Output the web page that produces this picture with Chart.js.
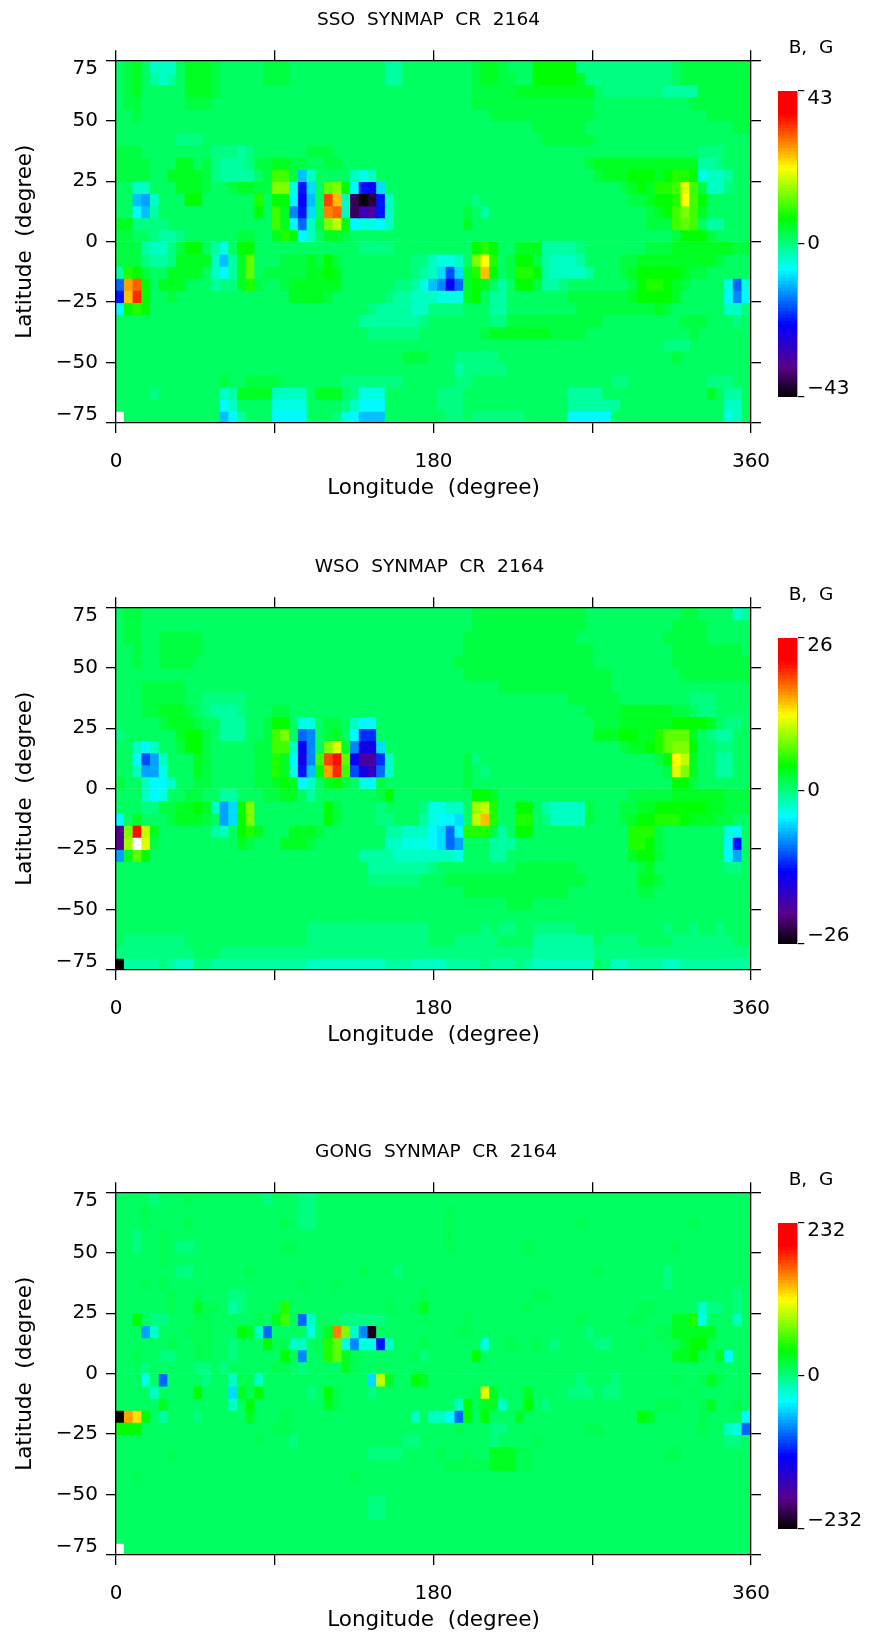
<!DOCTYPE html>
<html>
<head>
<meta charset="utf-8">
<title>SYNMAP CR 2164</title>
<script src="https://cdn.jsdelivr.net/npm/chart.js@4"></script>
<style>
  html, body { margin: 0; padding: 0; background: #fff; }
  #page { position: relative; width: 874px; height: 1637px; overflow: hidden; }
  canvas { position: absolute; }
</style>
</head>
<body>
<div id="page"></div>
<script>
// each char is one map cell, a..x = +1/24..+24/24 of the scale max, A..X the same negative,
// '.' zero, '+' is 1.5/24, '*' off the top of the scale (drawn white). rows run north to south
const latTicks = [-75, -50, -25, 0, 25, 50, 75];
const lonTicks = [0, 90, 180, 270, 360];
const lonLabels = [0, 180, 360];
const lonCells = 73;
const latStep = 5;

const ssoMax = 43;
const ssoRows = [
  "abcaBBBacccb aaaaabbbaaaa aaaaaaaAAaaa aaaaabccbaaa ddddd....... ....abbbbbbbb",
  "abcaABAacccb aaaaabbbaaaa aaaaaaaAAaaa aaaaabccbbaa dddddc...... ....abbbbbbbb",
  "abcaaaaacccb aaaaaaaaaaaa aaaaaaaaaaaa aaaaabbbbbcc ccccccca.... ...AAAAbbbbbb",
  "abbaaaaabbba aaaaaaaaaaaa aaaaaaaaaaaa aaaaabbbbbbb bbbbbbbaaaaa aaaaaabbbbbbb",
  "aabaaaaaaaaa aaaaaaaaaaaa aaaaaaaaaaaa aaaaaaabbbbb bbbbbbbaaaaa aaaaaaaabbbbb",
  "aaaaaaaaaaaa aaaaaaaaaaaa aaaaaaaaaaaa aaaaaaaaaaaa bbbbbbaaaaaa aaaaaaaaaaabb",
  "aaaaaaa...aa aaaaaaaaaaaa aaaaaaaaaaaa aaaaaaaaaaaa abbbbbbaaaaa aaaaaaaaaaaaa",
  "bbbaaaaaaaa. ..A.aaaaaabb baaaaaaaaaaa aaaaaaaaaaaa aaaaaaaaaaaa aaaaaaa...aaa",
  "bbbbaaaccab. AAA.bbccbbaa bbaaaaaaaaaa aaaaaaaaaaaa aaaaaabccccc cccccccAA.aaa",
  "bbbbaaccccb. AAAAabffbFBa aaaBCBaaaaaa aaaaaaaaaaaa aaaaaaabcccd ddcdeedCBBAaa",
  "aaBBaaacccba abccbbhhCLEa ghdDLMEaaaaa aaaaaaaaaaaa aaaaaaaaaabc dceefkfbBB.aa",
  "aaFGBaaaddaa aaaaeaddDMFa rnBUXVLBaaaa aaaaa.aaaaaa aaaaaaaaaaab bcddelfdaaaaa",
  "aaDFAaaaaaaa aaaadafcHLEa pqBUQRLBaaaa aaaabaAaaaaa aaaaaaaaaaaa abcdfhfcaaaaa",
  "cc....aaaaaa aaaaaafcDIBb hjdDCCDBaaaa aaaacaaaaaaa aaaaaaaaaaaa abbbfgfaAAaaa",
  "bbaa.AA.aaaa aabbaacedDBa ccbaaaaaaaaa aaaaaaaaaaaa aaaaaaaaaaaa aaaabdddbaaaa",
  "bbbABB.bddaA Caddaaaaaaaa aaaa....aaaa aaaaadedaacc cAAAA.aaaaaa abbbcccccccbb",
  "bbb.AA.ccccB FAcgaaabbbcb dbaaaaaaaa.. BCCBahleabdd bABBBAaaaabb cccccccccbaaa",
  "AedbaaccccaB DAcgabbbbbcc dcaaaaaaaa.A BEJEcendabee dABBBBAaaabc dddddcbbaaaaa",
  "IoqdacccaaaA ..cebaabcccc ccaaaaaa..AC FHMIcdcaAadd bAA.aaaaaaab deedcbaaaaCIC",
  "Lnsdaabaaaaa aaaaaaaacccc baaaaaa.AABB BCCCcdaAAaaa aaaabbbbbbbc ddddcaaaaaDHD",
  "Ddedaaaaaaaa aaaaaaaaaaaa aaaaa.AAAABB ....aaaAAaaa aaaaabbbbbbb bbcbaaaaaaBB.",
  "aaaaaaaaaaaa aaaaaaaaaaaa aaaaAAAAAAA. aaaaaaa..bbb bbbbbbbbaaaa aaaaabbbaaa.a",
  "aaaaaaaaaaaa aaaaaaaaaaaa aaaaa......a aaaaaabccccc ccbbbbaaaaaa aaaaaabaaaaaa",
  "aaaaaaaaaaaa aaaaaaaaaaaa aaaaaaaaaaaa aaaaaaaaaaaa aaaaaaaaaaaa aaa...aaaaaaa",
  "aaaaaaaaaaaa aaaaaaaaaaaa aaaaaaaaabbb aaa.....aaaa aaaaaaaaaaaa aaaabaaaaaaaa",
  "aaaaaaaaaaaa aaaaaaaaaaaa aaaaaaaaaaaa aaaA.....aaa aaaaaaaaaaaa aaaaaaaaaaaaa",
  "aaaaaaaaaaaa baabbbbaaaaa aa.......aaa aaa..aaaaaaa aaaaaaaaa..a aaaaaaaa...aa",
  "aaaa.aaaaaaa BAccccBBBBac cca.CCCaaaaa a...aaaaaaaa aaaaAAAAaaaa aaaaaaaacaAAa",
  "aaaaaaaaaaaa DBaaaaCCCCaa aa.BDDDaaaaa a...aaaaaaaa aaaaAAAAAAaa aaaaaaaaaaBBa",
  "*aaaaaaaaaaa FDAaaaDDDDaa a.CDFFFaaaaa aa..a......a aaaaDDDDDaaa aaaaaaaaaaCBa"
];

const wsoMax = 26;
const wsoRows = [
  "abbaaaaaaaaa aaaaaaaaaaaa aaaaaaaaaaaa aaaaabbbbbbb bbbbbbaaaaaa aaaaabbaaaaBA",
  "abbaaaaaaaaa aaaaaaaaaaaa aaaaaaaaaaaa aaaaabbbbbbb bbbbbbaaaaaa aaaabbbbaaaaa",
  "abbaabbbbbaa aaaaaaaaaaaa aaaaaaaaaaaa aaaabbbbbbbb bbbbbaaaaaaa aaabbbbbaaaaa",
  "aabaabbbbbaa aaaaaaaaaaaa aaaaaaaaaaaa aaaabbbbbbbb bbbbbbbaaaaa aaaabbbbbbbba",
  "aabaabbbbaaa aaaaaaaaaaaa aaaaaaaaaaaa aaabbbbbbbbb bbbbbbbaaaaa aaaabbbbbbbbb",
  "aaaaaaaaaaaa aaaaaaaaaaaa aaaaaaaaaaaa aaaabbbbbbbb bbbbbbbbbaaa aaaaabbbbbbbb",
  "aaabbbbbaaaa aaaaaaaaaaaa aaaaaaaaaaaa aaaaaaaabbbb bbbbbbbbbaaa aaaaaaaaaaaaa",
  "aaabbbbbaa.. ...aaaaaaaaa aaaaaaaaaaaa aaaaaaaaaaaa aaaabbbbbbaa aaaaaa...aaaa",
  "aaabbcccba.A AA.aaabbaaaa aaaaaaaaaaaa aaaaaaaaaaaa aaaaaabbbbcc ccccbba..aaaa",
  "aaaaabcccbaa AAAaabddaCCa bbaBDDaaaaaa aaaaaaaaaaaa aaaaaaabbbcc ccccddddca..a",
  ".aaaaaacddba AAAaabfhaIHa bcaDKKaaaaaa aaaaaaaaaaaa aaaaaaacccdd ccegggca.AAaa",
  "aaBDBaabddba aaaabbffBMHa hkcHNNEaaaaa aaaaaaaaaaaa aaaaaaaaaabc cdeghhdaa..aa",
  "aaDJGBaaacba aaaabbecDNHf rtgMRRKBaaaa aaaab.aaaaaa aaaaaaaaaaaa aabdljcaaAAaa",
  "aaBGGCaaacba aaaabbecCLFd osfJNPIBaaaa aaaaba.aaaaa aaaaaaaaaaaa aaabkhcaaAAaa",
  "baaBDDBaabba aaaabbcdcDBa cdbaCDbaaaaa aaaabaaaaaaa aaaaaaaaaaaa aaaaddbaaaaaa",
  "aaaBDCaabbaa AAaaabbccaAa aaaaaabdaaaa aaaaaddcaaaa aaaaaaaaaaab bbbbccccccbbb",
  "aaa..bbccdcB GEdhaaaaaaaa dbaaaa.aaaa. CCBBaijeaadd aABBBBbaaabb ccddddddccbbb",
  "Dacaaabcccba GEdhaaaaaaaa dbaaaa..aaaA CDDEajneaaee a.BBBBbaaabc ddeeedcccbbaa",
  "ShtjcaaaaaaA Badecaaacccb aaaaaaaAABBB DEIDeeebAadd aaaaaaaaaaae eebaaaaaaaCDa",
  "Si*kbaaaaaaa aacbaaacccba aaaaaaaBBCCC DEIGaaaAAAaa aaaaaaaaaaae edbaaaaaaaDLa",
  "Gcgdaaaaaaaa aaaaaaaaaaaa aaaaAAAABBBB BBBCaaaAAaaa aaaaaaaaaaac ddbaaaaaaaDGa",
  "aaaaaaaaaaaa aaaaaaaaaaaa aaaaaAAAAAAA .aaaaaaaaabb bbbbbaaaaaaa bcaaaaaaaa..a",
  "aaaaaaaaaaaa aaaaaaaaaaaa aaaaa......a aabbbbbbbbbb bbbbbbaaaaaa ccbaaaaaaaaaa",
  "aaaaaaaaaaaa aaaaaaaaaaaa aaaaaaaaaaaa aaaabbbbbbbb bbbbaaaaaaaa bbaaaaaaaaaaa",
  "aaaaaaaaaaaa aaaaaaaaaaaa aaaaaaaaaaaa aaaaaaaaabbb aaaaaaaaaaaa aaaaaaaaaaaaa",
  "aaaaaaaaaaaa aaaaaaaaaaaa aaaaaaaaaaaa aaaaaaaaaaaa aaaaaaaaaaaa aaaaaaaaaaaaa",
  "aaaaaaaaaaaa aaaaaaaaaa.. ............ aaaaaa.a..aa .....aaaaaaa aaa.aa.aa.aaa",
  "a.......aaaa aaaaaaaaaa.. ............ aaa.....aaaa AAAAAAAa.... aaaa.......aa",
  ".........aaa ............ ............ ............ AAAAAAA..... .............",
  "XAAAA.ABB..A AAAAAAAAAABB BBBBBBBAAABB BBAAAA.AAA.A BBBBBBBa.BBA AAABBAAAAAAAA"
];

const gongMax = 232;
const gongRows = [
  "aaaa.aaa+aaa aaaaa.aaa..a aaaaaaaaaaaa aaaaaaaaaaaa aaaaaaaaaaaa aaaaaaaaaaaaa",
  "aaa+aaaaaaaa aaaaaaaaa..a aaaaaaaaaaaa aa+aaaaaaaaa aaaaaaaaaaaa aaaaaaaaaaaaa",
  "aaa+aaaa+aaa aaaaaaa+a..a aaaaaaaaaaaa aa+aaaaaaaaa aaaaa+aaaaaa aaaaaa+aaaaaa",
  "aa.aa+aaaaaa aaaaaaaaaaaa aaaaaaaaaaaa aa+aaaaaaaaa aaaaaaaaaaaa aaaaaaaaaaaaa",
  "aa.aa+a..aaa aaaaaaa++aaa aaaaaaaaaaaa aa+aaaaaaaa+ aaaaaaaaaaaa aaaa+aaaaaaaa",
  "aaaaa+aaaaaa aaaaaaaaaaaa aaaaaaaaaaaa aaaaaaaaaaaa aaaaaaaaaaaa aaaaaaaaaaaaa",
  "aaaaaaa..aaa aaa+aaaaaaaa aaaa+aaa.aaa aaaaaaaaaaaa aaaaaaa+aaaa aaa.aaaaaaaaa",
  "aaa+a+aaaaaa aaaaaaaaa+aa a+aaaaaaaaaa aaaaaaaaaaaa aaaaaaaaaaaa aaa.aaaaaaaaa",
  "aaaaaa+aa+aa a..aaaaaaaaa aaaaaaaaaaa+ aaaaaaaaaaaa ++aaaaaaaaaa aaaaaaaaaaa.a",
  "aaaaaa+aac++ aA.aaa+eaaaa aaaaaaa+aa+c aaaaaaaaaaa+ aaaaaaaaaaaa ++aaaaaB..a.a",
  "aada..aaa++a aaaa+acfaIBa aa.....aaaaa aaaa+aaaaaaa aaaaa+aaaaa+ +aaacceCaaaBa",
  "aaaGBaaa+++a aadcBIaaaaCa cphBHWaaaaaa aaa++aaaaaaa aaaaaa.aaaaa aa++cccccaaaa",
  "aaaaaa+aa++a a.aaad++BBa+ egCHCCLBaaa+ aaaaaaCaa+aa +a.aaaa..aaa +aa++cdd+aaaa",
  "aa+aa..aa++a a.aaaaad+Haa egc+aaaaaa+. aaaaadaaaaaa aaaaaaaaaaaa aaaaccd+acDaa",
  "aaa.aaaaa..a .aaaaa++a.aa aac+aaaaaaaa aaaaaaaaaaaa aaaaaaaaaaaa aaaaaaaaaaaaa",
  "aaaCaIaaaa.a aB++Baaaaaaa aaaaaEjcaadc aaaaaaaaaaaa aaaaa.aaa.aa aaaa+aa+c+aaa",
  "aaaaBaaaadaa aEc+daaaaa.a d+aaa.aaaaaa aaaaa+kcaaac aaaa...a..aa aaaaaa+aaaaaa",
  "aaaaacaaaaaa aBadaaaaaaaa c+aaaaaaaaaa aaaBd+ccBaad a.aaaaaaaaaa aa+++aa+caa+a",
  "XomdaAaaa.aa aaacaaa+aaaa aaaaaaaaaaBa BBDIdadaaaca aaaaaaaaaaaa dcaaaaa+aaaaD",
  "dddaaaaaaaaa aaaaaa++aaaa aaaaaaaaaaaa aaa+aaa..aaa aaaaaa++aaaa aaaaaaa+aaBCI",
  "aaaaaaaaaaaa aaaa+aaa.aaa aaaaaaaaa..a aaaaaaa.aaaa +aaaaaaaaaaa aaaaaaaaaa..a",
  "aaaaaa+aaaaa aaaaaaaaaaaa aaaaa....aaa a+aa+aaccc++ aaaaaaaaaaaa aaa++aaaaaaaa",
  "aaaaaaaaaaaa aaaaaaaaaaaa aaaaaaaaaaaa aa+++++ccc++ aaaaaaaaaaaa aaaaaaaaaaaaa",
  "aa+aaaaaaaaa aaaaaaaaaaaa aaa+aaaaaaaa aaaaaaaaaaaa aaaaaaaaaaaa aaaaaaaaaaaaa",
  "aaaaaaaaaaaa aaaaaaaaaaaa aaaaaaaaaaaa aaaaaaaaaaaa aaaaaaaaaaaa aaaaaaaaaaaaa",
  "aaaaaaaaaaaa aaaaaaaaaaaa aaaaa..aaaaa aaaaaaaaaaaa aaaaaaaaaaaa aaaaaaaaaaaaa",
  "aaaaaaaaaaaa aaaaaaaaaaaa aaaaa..aaaaa aaaaaaaaaaaa aaaaaaaaaaaa aaaaaaaaaaaaa",
  "aaaaaaaaaaaa aaaaaaaaaaaa aaaaaaaaaaaa aaaaaaaaaaaa aaaaaaaaaaaa aaaaaaaaaaaaa",
  "aaaaaaaaaaaa aaaaaaaaaaaa aaaaaaaaaaaa aaaaaaaaaaaa aaaaaaaaaaaa aaaaaaaaaaaaa",
  "*aaaaaaaaaaa aaaaaaaaaaaa aaaaaaaaaaaa aaaaaaaaaaaa aaaaaaaaaaaa aaaaaaaaaaaaa"
];

const panels = [
  { title: 'SSO  SYNMAP  CR  2164', rows: ssoRows, max: ssoMax, top: 0, canvasW: 857 },
  { title: 'WSO  SYNMAP  CR  2164', rows: wsoRows, max: wsoMax, top: 547, canvasW: 859 },
  { title: 'GONG  SYNMAP  CR  2164', rows: gongRows, max: gongMax, top: 1132, canvasW: 872 }
];

const FONT = '"DejaVu Sans"';
const INK = '#000';
const PLOT_LEFT = 116, PLOT_RIGHT = 751, PLOT_BOTTOM = 423, PANEL_H = 505;

// rainbow ramp of the colour bar, position is value / max
const ramp = [
  [-1, 0, 0, 0], [-0.8, 90, 0, 140], [-0.524, 0, 0, 255], [-0.16, 0, 255, 255],
  [0, 0, 255, 128], [0.17, 0, 255, 0], [0.5, 255, 255, 0], [0.665, 255, 128, 0],
  [0.85, 255, 0, 0], [1, 255, 0, 0]
];

function colorFor(f) {
  if (f > 1) return '#fff';
  for (let i = 1; i < ramp.length; i++) {
    if (f <= ramp[i][0]) {
      const a = ramp[i - 1], b = ramp[i];
      const t = (f - a[0]) / (b[0] - a[0]);
      return `rgb(${[1, 2, 3].map(k => Math.round(a[k] + (b[k] - a[k]) * t)).join(',')})`;
    }
  }
  return 'rgb(255,0,0)';
}

function levelOf(ch) {
  if (ch === '*') return 25;
  if (ch === '.') return 0;
  if (ch === '+') return 1.5;
  if (!ch) return 1;
  const c = ch.charCodeAt(0);
  return c >= 97 ? c - 96 : -(c - 64);
}

function decodeRow(row, max) {
  const cells = row.replace(/ /g, '');
  const out = [];
  for (let i = 0; i < lonCells; i++) out.push(levelOf(cells[i]) / 24 * max);
  return out;
}

function fixBox(w, h) {
  return s => {
    if (w != null) s.width = w;
    if (h != null) s.height = h;
    s.paddingLeft = s.paddingRight = s.paddingTop = s.paddingBottom = 0;
  };
}

function addCanvas(left, top, w, h) {
  const c = document.createElement('canvas');
  c.width = w; c.height = h;
  c.style.left = left + 'px'; c.style.top = top + 'px';
  c.style.width = w + 'px'; c.style.height = h + 'px';
  document.getElementById('page').appendChild(c);
  return c;
}

const tickFont = { family: FONT, size: 20, lineHeight: '16px' };
const titleFont = { family: FONT, size: 21.5, lineHeight: 1.2 };
const minus = v => String(v).replace('-', '\u2212');

// top and bottom labels sit inside the axis range, an empty line shifts them
function edgeLabel(v, lo, hi) {
  if (v === hi) return ['', minus(v)];
  if (v === lo) return [minus(v), ''];
  return minus(v);
}

function frameGrid() {
  return { drawOnChartArea: false, drawTicks: true, tickLength: 10, color: INK, lineWidth: 1.3, offset: false, z: 1 };
}

function drawPanel(p) {
  const cellW = 360 / lonCells;
  const datasets = p.rows.map((row, j) => {
    const vals = decodeRow(row, p.max);
    const north = 75 - j * latStep;
    return {
      grouped: false,
      barPercentage: 1,
      categoryPercentage: 1,
      borderWidth: 0,
      inflateAmount: 0.8,
      data: vals.map((v, i) => ({ x: (i + 0.5) * cellW, y: [north - latStep, north], b: v })),
      backgroundColor: vals.map(v => colorFor(v / p.max))
    };
  });

  const latAxis = { type: 'linear', min: -75, max: 75, offset: false, border: { color: INK, width: 1.3, z: 1 }, grid: frameGrid(),
    afterBuildTicks: s => { s.ticks = latTicks.map(value => ({ value })); } };
  const lonAxis = { type: 'linear', min: 0, max: 360, offset: false, border: { color: INK, width: 1.3, z: 1 }, grid: frameGrid(),
    afterBuildTicks: s => { s.ticks = lonTicks.map(value => ({ value })); } };

  new Chart(addCanvas(0, p.top, p.canvasW, PANEL_H), {
    type: 'bar',
    data: { datasets },
    options: {
      responsive: false,
      animation: false,
      layout: { padding: 0 },
      plugins: {
        legend: { display: false },
        tooltip: { enabled: false },
        title: { display: true, text: p.title, color: INK, font: { family: FONT, size: 18.5, weight: 'normal', lineHeight: 1.2 }, padding: { top: 9, bottom: 5 } }
      },
      scales: {
        x: { ...lonAxis, position: 'bottom', afterFit: fixBox(null, PANEL_H - PLOT_BOTTOM),
          ticks: { z: 1, color: INK, font: tickFont, padding: 21, maxRotation: 0, autoSkip: false,
            callback: v => lonLabels.includes(v) ? String(v) : '' },
          title: { display: true, text: 'Longitude  (degree)', color: INK, font: titleFont, padding: { top: 4, bottom: 4 } } },
        x2: { ...lonAxis, axis: 'x', position: 'top', afterFit: fixBox(null, 24.1),
          ticks: { display: true, autoSkip: false, maxRotation: 0, font: tickFont, callback: () => '' } },
        y: { ...latAxis, position: 'left', afterFit: fixBox(PLOT_LEFT, null),
          ticks: { z: 1, color: INK, font: tickFont, padding: 8, autoSkip: false, callback: v => edgeLabel(v, -75, 75) },
          title: { display: true, text: 'Latitude  (degree)', color: INK, font: titleFont, padding: { top: 13, bottom: 0 } } },
        y2: { ...latAxis, axis: 'y', position: 'right', afterFit: fixBox(p.canvasW - PLOT_RIGHT, null),
          ticks: { display: true, autoSkip: false, font: tickFont, callback: () => '' } }
      }
    }
  });
}

function drawColorBar(p) {
  const steps = 92;
  const barTicks = [-p.max, 0, p.max];
  const ladder = [];
  for (let i = 0; i < steps; i++) ladder.push(-p.max + (i + 0.5) * 2 * p.max / steps);

  new Chart(addCanvas(748, p.top + 30, 126, 379), {
    type: 'bar',
    data: {
      datasets: [{
        xAxisID: 'x',
        yAxisID: 'y',
        barPercentage: 1,
        categoryPercentage: 1,
        borderWidth: 0,
        inflateAmount: 0.5,
        data: ladder.map(v => ({ y: v, x: [0, 1] })),
        backgroundColor: ladder.map(v => colorFor(v / p.max))
      }]
    },
    options: {
      indexAxis: 'y',
      responsive: false,
      animation: false,
      layout: { padding: { bottom: 12 } },
      plugins: {
        legend: { display: false },
        tooltip: { enabled: false },
        title: { display: true, text: 'B,  G', color: INK, font: { family: FONT, size: 18.5, weight: 'normal', lineHeight: 1.2 }, padding: { top: 7, bottom: 31.8 } }
      },
      scales: {
        x: { type: 'linear', min: 0, max: 1, display: false },
        y: { type: 'linear', position: 'right', min: -p.max, max: p.max, offset: false, afterFit: fixBox(76.7, null),
          border: { color: '#aaa', width: 1, z: 1 },
          grid: { drawOnChartArea: false, drawTicks: true, tickLength: 7, color: INK, lineWidth: 1.2, offset: false, z: 1 },
          afterBuildTicks: s => { s.ticks = barTicks.map(value => ({ value })); },
          ticks: { z: 1, color: INK, font: tickFont, padding: 3, autoSkip: false, callback: v => edgeLabel(v, -p.max, p.max) } },
        // empty axis on the left, only holds the bar away from the canvas edge
        pad: { type: 'linear', axis: 'y', position: 'left', min: 0, max: 1, afterFit: fixBox(30, null),
          border: { display: false }, grid: { display: false, drawTicks: false }, ticks: { display: false } }
      }
    }
  });
}

panels.forEach(p => { drawPanel(p); drawColorBar(p); });
</script>
</body>
</html>
